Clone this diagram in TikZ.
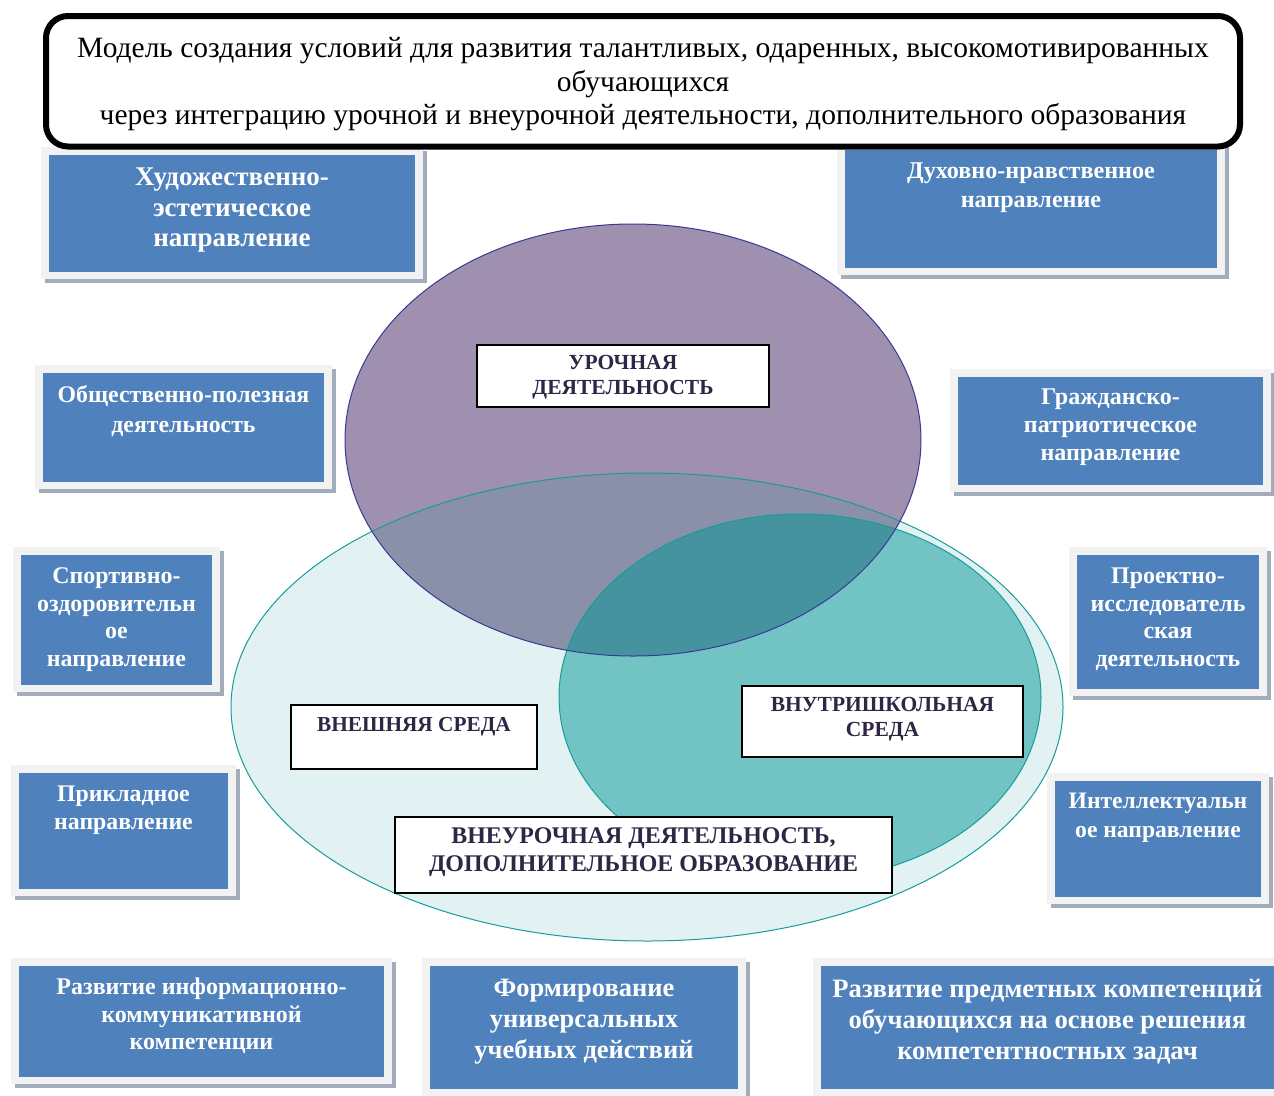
\documentclass[tikz,border=0pt]{standalone}
\usepackage{fontspec}
\setmainfont{Liberation Serif}
\definecolor{boxblue}{HTML}{4F81BD}
\definecolor{panelc}{HTML}{F2F2F2}
\definecolor{shadowc}{HTML}{A2ACBB}
\definecolor{labeltext}{HTML}{2F2544}
\definecolor{purc}{HTML}{9F90B0}
\definecolor{pbigc}{HTML}{8B90A9}
\definecolor{ptealc}{HTML}{4693A0}
\definecolor{tealc}{HTML}{72C4C4}
\definecolor{bigc}{HTML}{E2F2F2}
\definecolor{purline}{HTML}{3A3A96}
\definecolor{tealline}{HTML}{179C9C}
\newcommand\bbox[9]{%
  \fill[shadowc] ({#2-4},{#3-4}) rectangle ({#4+12},{#5+11});
  \fill[panelc] ({#2-8},{#3-8}) rectangle ({#4+8},{#5+7});
  \node[bluebox, minimum width={(#4-#2)*1pt}, minimum height={(#5-#3)*1pt}, anchor=north west] (#1) at (#2,#3) {};
  \node[btext, font={\fontsize{#7}{#8}\selectfont\bfseries}] (#1-t) at ({(#2+#4)/2},#6) {#9};
}
\begin{document}
\begin{tikzpicture}[x=1pt,y=-1pt,
  bluebox/.style={fill=boxblue, draw=none, inner sep=0pt, outer sep=0pt},
  btext/.style={anchor=north, inner sep=0pt, align=center, text=white},
  lbox/.style={fill=white, draw=black, line width=2pt, inner sep=0pt, outer sep=0pt, anchor=north west},
  ltext/.style={anchor=north, inner sep=0pt, align=center, text=labeltext}]
\useasboundingbox (0,0) rectangle (1274,1095);
\fill[white] (0,0) rectangle (1274,1095);

% Venn fills
\fill[bigc] (647,707) ellipse [x radius=416pt, y radius=234pt];
\fill[tealc] (800,697) ellipse [x radius=241pt, y radius=183pt];
\fill[purc] (633,440) ellipse [x radius=288pt, y radius=216pt];
\begin{scope}
  \clip (633,440) ellipse [x radius=288pt, y radius=216pt];
  \fill[pbigc] (647,707) ellipse [x radius=416pt, y radius=234pt];
  \fill[ptealc] (800,697) ellipse [x radius=241pt, y radius=183pt];
\end{scope}
% Venn borders
\draw[tealline, line width=1pt] (647,707) ellipse [x radius=416pt, y radius=234pt];
\draw[tealline, line width=1pt] (800,697) ellipse [x radius=241pt, y radius=183pt];
\draw[purline, line width=1pt] (633,440) ellipse [x radius=288pt, y radius=216pt];

% blue boxes
\bbox{b1}{49}{155}{415}{272}{168}{27}{30.5}{Художественно-\\эстетическое\\направление}
\bbox{b2}{845}{150}{1217}{268}{163}{24.1}{29}{Духовно-нравственное\\направление}
\bbox{b3}{43}{373}{324}{482}{385}{23.8}{30}{Общественно-полезная\\деятельность}
\bbox{b4}{958}{377}{1263}{485}{388.5}{24}{28}{Гражданско-\\патриотическое\\направление}
\bbox{b5}{21}{555}{212}{685}{567.5}{23.9}{27.7}{Спортивно-\\оздоровительн\\ое\\направление}
\bbox{b6}{19}{773}{228}{889}{785.5}{23.8}{28}{Прикладное\\направление}
\bbox{b7}{1077}{555}{1259}{689}{567.5}{23.9}{27.7}{Проектно-\\исследователь\\ская\\деятельность}
\bbox{b8}{1055}{781}{1261}{897}{792.5}{23.6}{29}{Интеллектуальн\\ое направление}
\bbox{b9}{19}{966}{384}{1077}{978}{24}{27.5}{Развитие информационно-\\коммуникативной\\компетенции}
\bbox{b10}{430}{966}{738}{1089}{978.5}{26.5}{31}{Формирование\\универсальных\\учебных действий}
\bbox{b11}{821}{966}{1274}{1089}{978.5}{26.6}{31}{Развитие предметных компетенций\\обучающихся на основе решения\\компетентностных задач}

% title
\node[draw=black, line width=6pt, rounded corners=22pt, fill=white, minimum width=1194pt, minimum height=130.5pt, inner sep=0pt, outer sep=0pt, anchor=north west] (title) at (46,16) {};
\node[anchor=north, inner sep=0pt, align=center, font={\fontsize{29.5}{33.5}\selectfont}] (title-t) at (643,37.5) {Модель создания условий для развития талантливых, одаренных, высокомотивированных\\обучающихся\\через интеграцию урочной и внеурочной деятельности, дополнительного образования};

% labels
\node[lbox, minimum width=292pt, minimum height=62pt] (l1) at (477,345) {};
\node[ltext, font={\fontsize{21.5}{25}\selectfont\bfseries}] (l1-t) at (623,355) {УРОЧНАЯ\\ДЕЯТЕЛЬНОСТЬ};
\node[lbox, minimum width=246pt, minimum height=64pt] (l2) at (291,705) {};
\node[ltext, font={\fontsize{21.3}{25}\selectfont\bfseries}] (l2-t) at (414,717) {ВНЕШНЯЯ СРЕДА};
\node[lbox, minimum width=281pt, minimum height=71pt] (l3) at (742,686) {};
\node[ltext, font={\fontsize{21.5}{25}\selectfont\bfseries}] (l3-t) at (882.5,697) {ВНУТРИШКОЛЬНАЯ\\СРЕДА};
\node[lbox, minimum width=497pt, minimum height=76pt] (l4) at (395,817) {};
\node[ltext, font={\fontsize{23.9}{28}\selectfont\bfseries}] (l4-t) at (643.5,827.5) {ВНЕУРОЧНАЯ ДЕЯТЕЛЬНОСТЬ,\\ДОПОЛНИТЕЛЬНОЕ ОБРАЗОВАНИЕ};
\end{tikzpicture}
\end{document}
